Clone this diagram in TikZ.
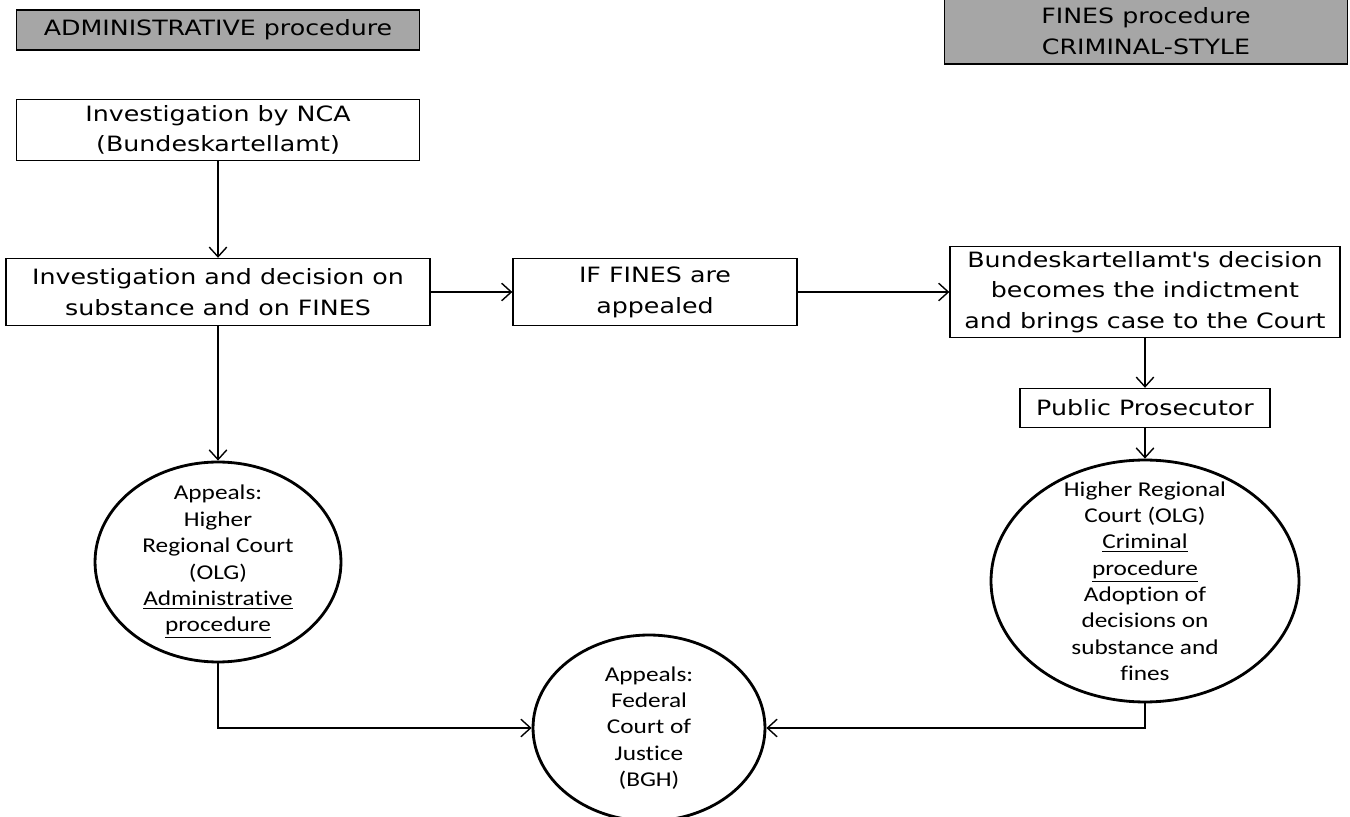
\documentclass[tikz,border=0pt]{standalone}
\usepackage{fontspec}
\setmainfont{DejaVu Sans}[FakeStretch=1.2]
\newfontfamily\calibrifont{Carlito}[FakeStretch=1.2,Ligatures=NoCommon]
\usetikzlibrary{arrows.meta,shapes.geometric}

\begin{document}
\begin{tikzpicture}
    [x=0.02cm,y=-0.02cm,
    >={Straight Barb[length=5.5pt,width=10pt]},
    header/.style={rectangle,draw=black,fill=black!35,line width=0.8pt,
    inner sep=0pt,font=\fontsize{12}{17.5}\selectfont,align=center},
    stage/.style={rectangle,draw=black,fill=white,line width=0.8pt,
    inner sep=0pt,font=\fontsize{12}{17.5}\selectfont,align=center},
    court/.style={ellipse,draw=black,line width=1.6pt,inner sep=0pt},
    court text/.style={inner sep=0pt,
    font=\calibrifont\fontsize{12}{15}\selectfont,align=center},
    link/.style={->,line width=0.8pt}]
    \useasboundingbox (0,0) rectangle (1350,817);
    \node (adm head) [header,minimum width=80.6mm,minimum height=8mm] at (218,30) {ADMINISTRATIVE procedure};
    \node (fine head) [header,minimum width=80.6mm,minimum height=13.2mm] at (1146,31) {FINES procedure\\CRIMINAL-STYLE};
    \node (nca) [stage,minimum width=80.6mm,minimum height=12.2mm] at (218,130) {Investigation by NCA\\(Bundeskartellamt)};
    \node (decision) [stage,minimum width=84.8mm,minimum height=13.4mm] at (218,292) {Investigation and decision on\\substance and on FINES};
    \node (appeal) [stage,minimum width=56.8mm,minimum height=13.4mm] at (655,292) {IF FINES are\\appealed};
    \node (indictment) [stage,minimum width=78mm,minimum height=18.2mm] at (1145,292) {Bundeskartellamt\textquotesingle s decision\\becomes the indictment\\and brings case to the Court};
    \node (prosecutor) [stage,minimum width=50mm,minimum height=7.8mm] at (1145,408) {Public Prosecutor};
    \node (olg admin) [court,minimum width=49.2mm,minimum height=40mm,
      label={[court text]center:Appeals:\\Higher\\Regional Court\\(OLG)\\\underline{Administrative}\\\underline{procedure}}] at (218,562) {};
    \node (olg crim) [court,minimum width=61.6mm,minimum height=48.4mm,
      label={[court text]center:Higher Regional\\Court (OLG)\\\underline{Criminal}\\\underline{procedure}\\Adoption of\\decisions on\\substance and\\fines}] at (1145,581) {};
    \node (bgh) [court,minimum width=46.4mm,minimum height=37.2mm,
      label={[court text]center:Appeals:\\Federal\\Court of\\Justice\\(BGH)}] at (649,728) {};

    \draw[link] (nca) -- (decision);
    \draw[link] (decision) -- (appeal);
    \draw[link] (appeal) -- (indictment);
    \draw[link] (indictment) -- (prosecutor);
    \draw[link] (prosecutor) -- (olg crim);
    \draw[link] (decision) -- (olg admin);
    \draw[link] (olg admin.south) |- (bgh.west);
    \draw[link] (olg crim.south) |- (bgh.east);
\end{tikzpicture}
\end{document}
